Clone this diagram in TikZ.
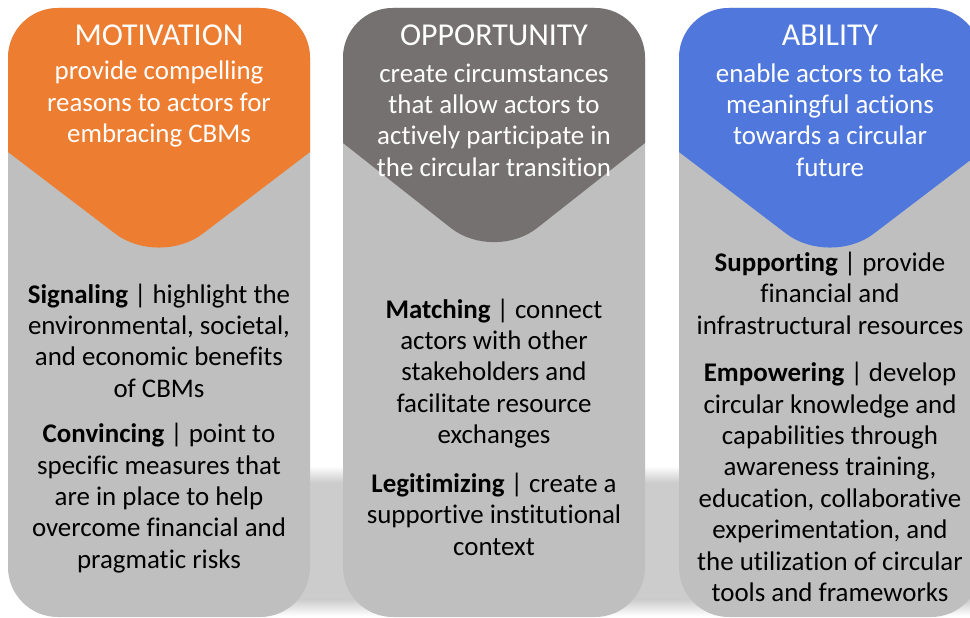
\documentclass[tikz,border=0pt]{standalone}
\usepackage{fontspec}
\setmainfont{Carlito}[Ligatures={NoCommon}, RawFeature={-calt;-clig;-dlig}]
\usetikzlibrary{calc}
\definecolor{corange}{HTML}{ED7D31}
\definecolor{cdgray}{HTML}{767171}
\definecolor{cblue}{HTML}{5078DC}
\definecolor{cbody}{HTML}{BFBFBF}
\definecolor{cshadow}{HTML}{CCCCCC}
\tikzset{
  colbody/.style={fill=cbody, draw=none, rounded corners=50},
  headtxt/.style={text=white, font=\fontsize{32}{38}\selectfont, inner sep=0pt},
  desctxt/.style={text=white, font=\fontsize{27}{31.5}\selectfont, align=center, inner sep=0pt},
  bodytxt/.style={text=black, font=\fontsize{27}{31.5}\selectfont, align=center, inner sep=0pt}
}
\begin{document}
\begin{tikzpicture}[x=1bp,y=-1bp]
\useasboundingbox (0,0) rectangle (970,618);
\begin{scope}
\clip (0,0) rectangle (970,618);
% shadow strip
\fill[cshadow] (70,482) rectangle (990,600);
\shade[top color=white, bottom color=cshadow] (70,466) rectangle (990,482.5);
\shade[top color=cshadow, bottom color=white] (70,599.5) rectangle (990,616);
% columns
\foreach \x/\c/\s/\v in {8/corange/152/267, 343/cdgray/143/262, 679/cblue/152/267}{
  \fill[colbody] (\x,8) rectangle (\x+302,617);
  \fill[\c] (\x,\s) [rounded corners=50] -- (\x,8) -- (\x+302,8) [rounded corners=0] -- (\x+302,\s)
     [rounded corners=55] -- (\x+151,\v) [rounded corners=0] -- cycle;
}
\end{scope}
% column 1
\node[headtxt] (t1) at (159,35) {MOTIVATION};
\node[desctxt] (d1) at (159,104) {provide compelling\\reasons to actors for\\embracing CBMs};
\node[bodytxt] (p1a) at (159,340.5) {\textbf{Signaling} | highlight the\\environmental, societal,\\and economic benefits\\of CBMs};
\node[bodytxt] (p1b) at (159,498) {\textbf{Convincing} | point to\\specific measures that\\are in place to help\\overcome financial and\\pragmatic risks};
% column 2
\node[headtxt] (t2) at (494,35) {OPPORTUNITY};
\node[desctxt] (d2) at (494,120) {create circumstances\\that allow actors to\\actively participate in\\the circular transition};
\node[bodytxt] (p2a) at (494,373.5) {\textbf{Matching} | connect\\actors with other\\stakeholders and\\facilitate resource\\exchanges};
\node[bodytxt] (p2b) at (494,514) {\textbf{Legitimizing} | create a\\supportive institutional\\context};
% column 3
\node[headtxt] (t3) at (830,35) {ABILITY};
\node[desctxt] (d3) at (830,120) {enable actors to take\\meaningful actions\\towards a circular\\future};
\node[bodytxt] (p3a) at (830,293) {\textbf{Supporting} | provide\\financial and\\infrastructural resources};
\node[bodytxt] (p3b) at (830,482) {\textbf{Empowering} | develop\\circular knowledge and\\capabilities through\\awareness training,\\education, collaborative\\experimentation, and\\the utilization of circular\\tools and frameworks};
\end{tikzpicture}
\end{document}
